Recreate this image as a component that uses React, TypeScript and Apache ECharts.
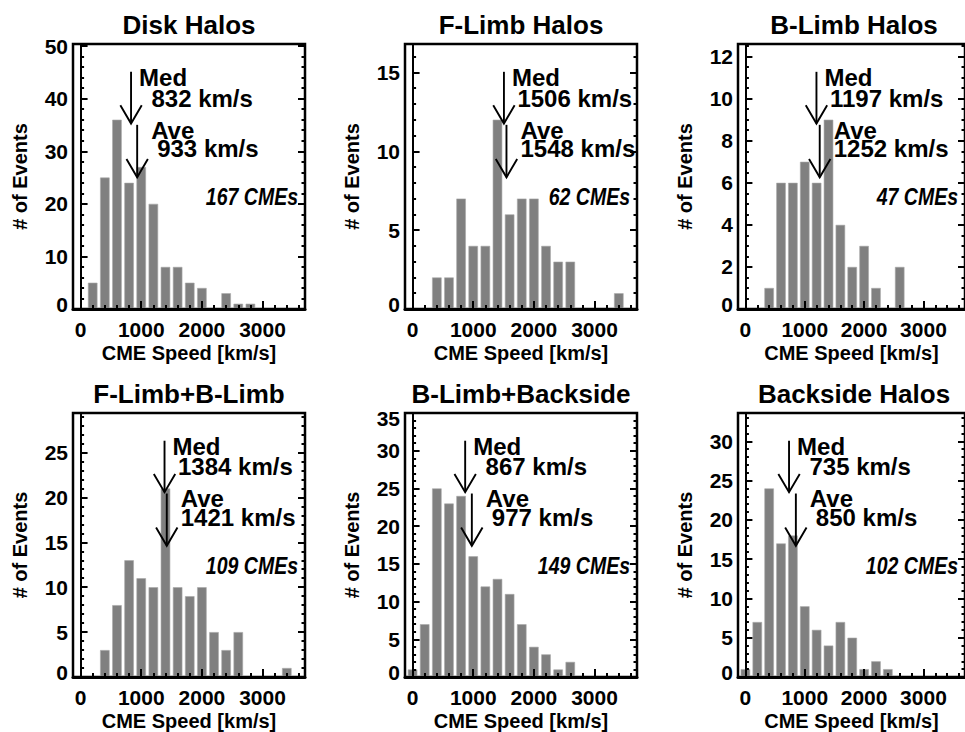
import React, { useEffect, useRef } from 'react';
import * as echarts from 'echarts';

// Histogram bin centres (km/s)
const binCenters = [0, 200, 400, 600, 800, 1000, 1200, 1400, 1600, 1800, 2000, 2200, 2400, 2600, 2800, 3000, 3200, 3400];

// Counts per bin for each panel
const diskHalos = [0, 5, 25, 36, 24, 27, 20, 8, 8, 5, 4, 0, 3, 1, 1, 0, 0, 0];
const fLimbHalos = [0, 0, 2, 2, 7, 4, 4, 12, 6, 7, 7, 4, 3, 3, 0, 0, 0, 1];
const bLimbHalos = [0, 0, 1, 6, 6, 7, 6, 9, 4, 2, 3, 1, 0, 2, 0, 0, 0, 0];
const fLimbBLimb = [0, 0, 3, 8, 13, 11, 10, 21, 10, 9, 10, 5, 3, 5, 0, 0, 0, 1];
const bLimbBackside = [1, 7, 25, 23, 24, 16, 12, 13, 11, 7, 4, 3, 1, 2, 0, 0, 0, 0];
const backsideHalos = [1, 7, 24, 17, 18, 9, 6, 4, 7, 5, 1, 2, 1, 0, 0, 0, 0, 0];

const panelCounts = [diskHalos, fLimbHalos, bLimbHalos, fLimbBLimb, bLimbBackside, backsideHalos];
const panelTitles = ['Disk Halos', 'F-Limb Halos', 'B-Limb Halos', 'F-Limb+B-Limb', 'B-Limb+Backside', 'Backside Halos'];
const medians = [832, 1506, 1197, 1384, 867, 735];
const averages = [933, 1548, 1252, 1421, 977, 850];
const cmeCounts = [167, 62, 47, 109, 149, 102];

// Tick labels / tick positions
const xTickLabels = [0, 1000, 2000, 3000];
const xMinorTicks = [0, 200, 400, 600, 800, 1000, 1200, 1400, 1600, 1800, 2000, 2200, 2400, 2600, 2800, 3000, 3200, 3400, 3600];
const yTickLabels = [
  [0, 10, 20, 30, 40, 50],
  [0, 5, 10, 15],
  [0, 2, 4, 6, 8, 10, 12],
  [0, 5, 10, 15, 20, 25],
  [0, 5, 10, 15, 20, 25, 30, 35],
  [0, 5, 10, 15, 20, 25, 30],
];
const yMinorStep = [2, 1, 0.5, 1, 1, 1];

const X_MIN = -125;
const X_MAX = 3700;
const GRID_LEFTS = [73, 405, 738];
const GRID_TOPS = [44, 413];
const GRID_W = 232;
const GRID_H = 265;
const FONT = "'Liberation Sans', Arial, Helvetica, sans-serif";

function minorList(max: number, step: number): number[] {
  const out: number[] = [];
  for (let v = 0; v <= max + 1e-9; v += step) out.push(Math.round(v * 1000) / 1000);
  return out;
}

function buildOption() {
  const grids: any[] = [];
  const xAxes: any[] = [];
  const yAxes: any[] = [];
  const series: any[] = [];
  const titles: any[] = [];

  panelCounts.forEach((counts, i) => {
    const col = i % 3;
    const row = Math.floor(i / 3);
    const left = GRID_LEFTS[col];
    const top = GRID_TOPS[row];
    const yMax = Math.max(...counts) * 1.4;
    const majors = yTickLabels[i];
    const minors = minorList(yMax, yMinorStep[i]);

    grids.push({
      left, top, width: GRID_W, height: GRID_H,
      show: true, borderColor: '#000', borderWidth: 2.5, backgroundColor: 'transparent',
    });

    titles.push({
      text: panelTitles[i],
      left: left + GRID_W / 2,
      top: top - 32,
      textAlign: 'center',
      padding: 0,
      textStyle: { fontSize: 26, fontWeight: 'bold', fontFamily: FONT, color: '#000' },
    });

    const tickLine = { color: '#000', width: 2 };
    // X axes: major + minor
    xAxes.push({
      gridIndex: i, type: 'value', min: X_MIN, max: X_MAX, position: 'bottom', z: 10,
      axisLine: { show: true, onZero: false, lineStyle: { color: '#000', width: 3 } },
      axisTick: { show: true, inside: true, length: 8, customValues: xTickLabels, lineStyle: tickLine },
      axisLabel: {
        customValues: xTickLabels, margin: 10, fontSize: 21, fontWeight: 'bold', fontFamily: FONT, color: '#000',
        formatter: (v: number) => String(v),
      },
      splitLine: { show: false },
      name: 'CME Speed [km/s]', nameLocation: 'middle', nameGap: 34,
      nameTextStyle: { fontSize: 20, fontWeight: 'bold', fontFamily: FONT, color: '#000' },
    });
    xAxes.push({
      gridIndex: i, type: 'value', min: X_MIN, max: X_MAX, position: 'bottom', z: 10,
      axisLine: { show: false, onZero: false },
      axisTick: { show: true, inside: true, length: 4, customValues: xMinorTicks, lineStyle: tickLine },
      axisLabel: { show: false },
      splitLine: { show: false },
    });

    const labelFmt = (v: number) => {
      if (v === 0) return '{lo|0}';
      if (Math.abs(v - yMax) < 1e-6) return '{hi|' + v + '}';
      return String(v);
    };
    const lblStyle = { fontSize: 21, fontWeight: 'bold', fontFamily: FONT, color: '#000' };

    // Y axes: left major, left minor, right major, right minor
    yAxes.push({
      gridIndex: i, type: 'value', min: 0, max: yMax, position: 'left', z: 10,
      axisLine: { show: true, lineStyle: { color: '#000', width: 2 } },
      axisTick: { show: true, inside: true, length: 7, customValues: majors, lineStyle: tickLine },
      axisLabel: {
        customValues: majors, margin: 5, ...lblStyle, formatter: labelFmt,
        rich: { lo: { ...lblStyle, padding: [0, 0, 10, 0] }, hi: { ...lblStyle, padding: [10, 0, 0, 0] } },
      },
      splitLine: { show: false },
      name: '# of Events', nameLocation: 'middle', nameGap: 43, nameRotate: 90,
      nameTextStyle: { fontSize: 20, fontWeight: 'bold', fontFamily: FONT, color: '#000' },
    });
    yAxes.push({
      gridIndex: i, type: 'value', min: 0, max: yMax, position: 'left', z: 10,
      axisLine: { show: false },
      axisTick: { show: true, inside: true, length: 3.5, customValues: minors, lineStyle: tickLine },
      axisLabel: { show: false }, splitLine: { show: false },
    });
    yAxes.push({
      gridIndex: i, type: 'value', min: 0, max: yMax, position: 'right', z: 10,
      axisLine: { show: true, lineStyle: { color: '#000', width: 2 } },
      axisTick: { show: true, inside: true, length: 7, customValues: majors, lineStyle: tickLine },
      axisLabel: { show: false }, splitLine: { show: false },
    });
    yAxes.push({
      gridIndex: i, type: 'value', min: 0, max: yMax, position: 'right', z: 10,
      axisLine: { show: false },
      axisTick: { show: true, inside: true, length: 3.5, customValues: minors, lineStyle: tickLine },
      axisLabel: { show: false }, splitLine: { show: false },
    });

    series.push({
      type: 'bar',
      xAxisIndex: 2 * i,
      yAxisIndex: 4 * i,
      data: binCenters.map((c, j) => [c, counts[j]]).filter((d) => d[1] > 0),
      barWidth: 9.5,
      itemStyle: { color: '#808080', borderColor: '#a8a8a8', borderWidth: 0.6 },
      clip: true,
      z: 2,
      silent: true,
    });

    const cmeCount = cmeCounts[i];
    series.push({
      type: 'custom',
      xAxisIndex: 2 * i,
      yAxisIndex: 4 * i,
      data: [[medians[i], averages[i]]],
      z: 6,
      silent: true,
      clip: false,
      renderItem: (params: any, api: any) => {
        const med = api.value(0);
        const ave = api.value(1);
        const mx = api.coord([med, 0])[0];
        const ax = api.coord([ave, 0])[0];
        const yAt = (f: number) => api.coord([0, f * yMax])[1];
        const rightX = api.coord([X_MAX, 0])[0];
        const stroke = { stroke: '#000', lineWidth: 1.9, fill: null };
        const headW = 10.7;
        const headH = 18.3;
        const arrow = (x: number, y1: number, y2: number) => [
          { type: 'line', shape: { x1: x, y1, x2: x, y2 }, style: stroke },
          {
            type: 'polyline',
            shape: { points: [[x - headW, y2 - headH], [x, y2], [x + headW, y2 - headH]] },
            style: stroke,
          },
        ];
        const txt = (text: string, x: number, y: number, extra: any = {}, scaleY = 1) => ({
          type: 'text',
          x, y, scaleY,
          style: {
            text, fill: '#000', fontSize: 24, lineHeight: 18, fontWeight: 'bold', fontFamily: FONT,
            align: 'left', verticalAlign: 'middle', ...extra,
          },
        });
        const medStr = String(med);
        const aveStr = String(ave);
        const medNumOff = 8 + (medStr.length === 3 ? 12.4 : 5.5);
        const aveNumOff = 14 + (aveStr.length === 3 ? 6 : 0);
        return {
          type: 'group',
          children: [
            ...arrow(mx, yAt(0.895), yAt(0.7)),
            ...arrow(ax, yAt(0.695), yAt(0.497)),
            txt('Med', mx + 8, yAt(0.875)),
            txt(medStr + ' km/s', mx + medNumOff, yAt(0.796)),
            txt('Ave', ax + 14, yAt(0.675)),
            txt(aveStr + ' km/s', ax + aveNumOff, yAt(0.604)),
            txt(cmeCount + ' CMEs', rightX - 7, yAt(0.423), {
              align: 'right', fontStyle: 'italic', fontSize: 19.5, lineHeight: 16,
            }, 1.22),
          ],
        };
      },
    });
  });

  return {
    animation: false,
    backgroundColor: '#fff',
    title: titles,
    grid: grids,
    xAxis: xAxes,
    yAxis: yAxes,
    series,
  };
}

export default function App() {
  const ref = useRef<HTMLDivElement>(null);
  useEffect(() => {
    document.body.style.margin = '0';
    if (!ref.current) return;
    const chart = echarts.init(ref.current, undefined, { renderer: 'svg' });
    chart.setOption(buildOption() as any);
    return () => chart.dispose();
  }, []);
  return <div ref={ref} style={{ width: 965, height: 732 }} />;
}
